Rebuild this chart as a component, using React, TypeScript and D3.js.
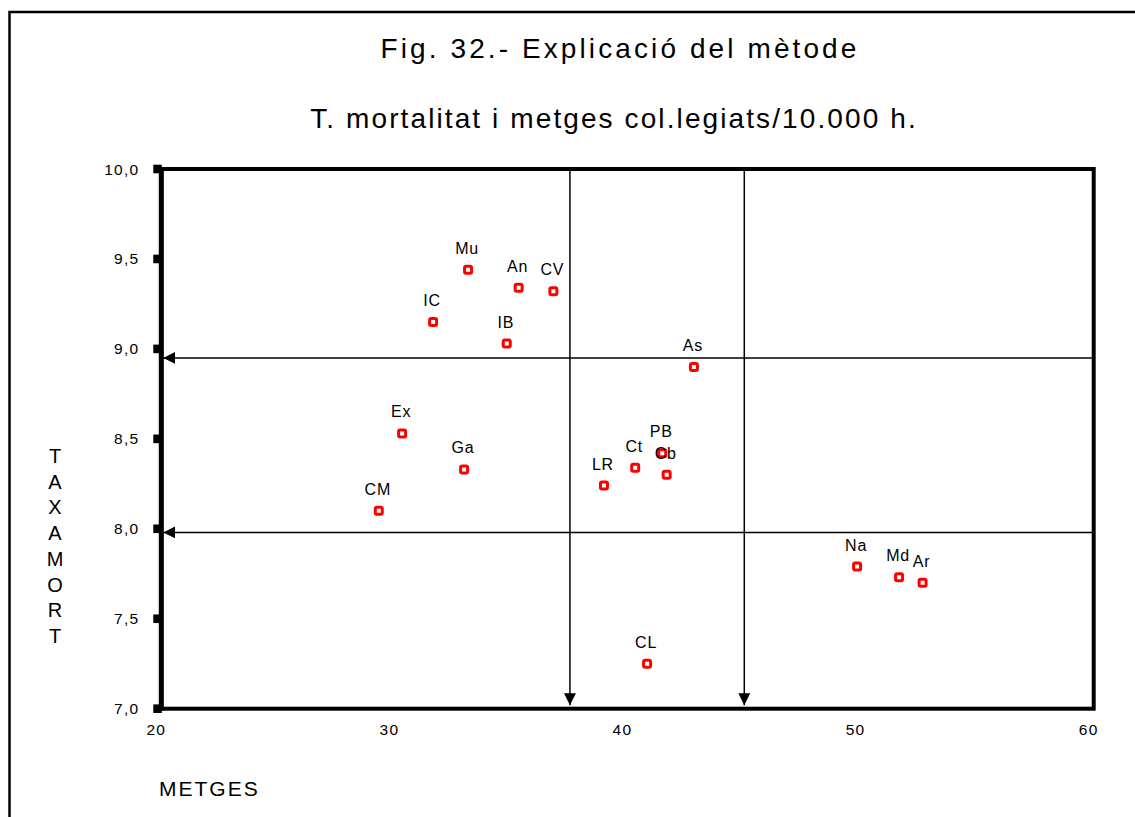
import React from "react";
import * as d3 from "d3";

// Comarques: metges col·legiats per 10.000 h. (x) i taxa de mortalitat (y)
const codes = ["Mu", "An", "CV", "IC", "IB", "As", "Ex", "Ga", "CM", "LR", "Ct", "PB", "Cb", "Na", "Md", "Ar", "CL"];
const metges = [33.16, 35.33, 36.82, 31.66, 34.82, 42.85, 30.33, 32.99, 29.33, 38.99, 40.33, 41.49, 41.68, 49.85, 51.65, 52.66, 40.84];
const taxaMort = [9.44, 9.34, 9.32, 9.15, 9.03, 8.9, 8.53, 8.33, 8.1, 8.24, 8.34, 8.42, 8.3, 7.79, 7.73, 7.7, 7.25];

// Talls del mètode (fletxes)
const metgesCuts = [37.53, 45.01];
const taxaCuts = [8.95, 7.98];

const xTicks = [20, 30, 40, 50, 60];
const yTicks = [7.0, 7.5, 8.0, 8.5, 9.0, 9.5, 10.0];

const titleLines = ["Fig. 32.- Explicació del mètode", "T. mortalitat i metges col.legiats/10.000 h."];
const xTitle = "METGES";
const yTitle = "TAXAMORT";

const W = 1135;
const H = 817;
const FONT = "Arial, 'Liberation Sans', Helvetica, sans-serif";

export default function App() {
  const x = d3.scaleLinear().domain([20, 60]).range([161.3, 1093.7]);
  const y = d3.scaleLinear().domain([7, 10]).range([708.7, 169]);
  const [x0, x1] = x.range();
  const [yb, yt] = y.range();
  const fmt = (v: number) => d3.format(".1f")(v).replace(".", ",");

  return (
    <svg
      width={W}
      height={H}
      style={{ position: "absolute", left: 0, top: 0, background: "#fff" }}
      fontFamily={FONT}
    >
      <defs>
        <marker id="arrowHead" viewBox="0 0 12 12" refX="12" refY="6" markerWidth="12" markerHeight="12" markerUnits="userSpaceOnUse" orient="auto">
          <path d="M0,0 L12,6 L0,12 Z" fill="#000" />
        </marker>
      </defs>

      {/* outer frame */}
      <path d={`M9.5,${H + 10} L9.5,12 L${W + 10},12`} fill="none" stroke="#000" strokeWidth={2.5} />

      {/* titles */}
      <text x={620} y={58} textAnchor="middle" fontSize={28} letterSpacing={3.1} fill="#000">
        {titleLines[0]}
      </text>
      <text x={614} y={128} textAnchor="middle" fontSize={28} letterSpacing={2.1} fill="#000">
        {titleLines[1]}
      </text>

      {/* cut arrows */}
      {metgesCuts.map((v) => (
        <line key={"v" + v} x1={x(v)} x2={x(v)} y1={yt} y2={yb - 3.5} stroke="#000" strokeWidth={1.5} markerEnd="url(#arrowHead)" />
      ))}
      {taxaCuts.map((v) => (
        <line key={"h" + v} x1={x1} x2={x0 + 2} y1={y(v)} y2={y(v)} stroke="#000" strokeWidth={1.5} markerEnd="url(#arrowHead)" />
      ))}

      {/* plot frame */}
      <rect x={x0} y={yt} width={x1 - x0} height={yb - yt} fill="none" stroke="#000" strokeWidth={4} />
      <line x1={x0} x2={x0} y1={yt - 2} y2={yb + 2} stroke="#000" strokeWidth={5} />

      {/* y ticks */}
      {yTicks.map((t) => (
        <g key={t}>
          <rect x={153.3} y={y(t) - 4.3} width={8.5} height={8.6} fill="#000" />
          <text x={139.5} y={y(t) + 5.5} textAnchor="end" fontSize={15.5} letterSpacing={1.3} fill="#000">
            {fmt(t)}
          </text>
        </g>
      ))}

      {/* x tick labels */}
      {xTicks.map((t) => (
        <text key={t} x={x(t) - 5} y={734.5} textAnchor="middle" fontSize={15.5} letterSpacing={1.3} fill="#000">
          {t}
        </text>
      ))}

      {/* axis titles */}
      <text x={159} y={796} fontSize={21} letterSpacing={2} fill="#000">
        {xTitle}
      </text>
      {yTitle.split("").map((c, i) => (
        <text key={i} x={55} y={463 + i * 25.7} textAnchor="middle" fontSize={20} fill="#000">
          {c}
        </text>
      ))}

      {/* points */}
      {codes.map((c, i) => (
        <g key={c}>
          <rect
            x={x(metges[i]) - 3.5}
            y={y(taxaMort[i]) - 3.5}
            width={7}
            height={7}
            rx={1.5}
            fill="#fff"
            stroke="#ff0000"
            strokeWidth={3}
          />
          <text x={x(metges[i]) - 1} y={y(taxaMort[i]) - 16} textAnchor="middle" fontSize={16} letterSpacing={0.8} fill="#000">
            {c}
          </text>
        </g>
      ))}
    </svg>
  );
}
